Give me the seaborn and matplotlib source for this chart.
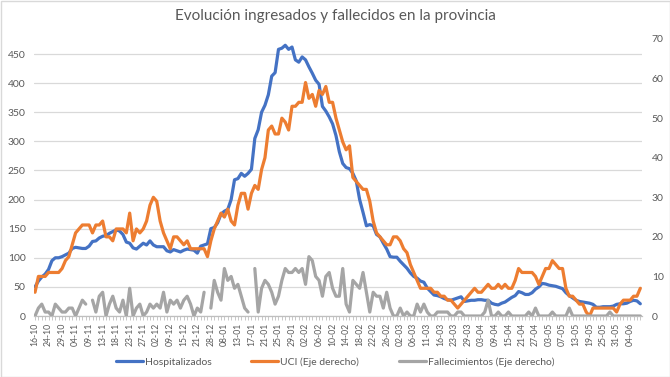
import matplotlib
matplotlib.use("Agg")
import numpy as np
import pandas as pd
import matplotlib.pyplot as plt
import seaborn as sns
from matplotlib.lines import Line2D
from matplotlib.patches import Rectangle

# Datos (una entrada por día con dato)
etiquetas_fecha = [
    '16-10', '24-10', '29-10', '04-11', '09-11', '13-11', '18-11', '23-11',
    '27-11', '02-12', '09-12', '15-12', '21-12', '28-12', '08-01', '13-01',
    '17-01', '21-01', '25-01', '29-01', '02-02', '06-02', '10-02', '14-02',
    '18-02', '22-02', '26-02', '02-03', '06-03', '11-03', '16-03', '23-03',
    '29-03', '03-04', '09-04', '15-04', '21-04', '27-04', '03-05', '07-05',
    '13-05', '19-05', '25-05', '31-05', '04-06'
]

hospitalizados = [
    50, 60, 67, 72, 80, 95, 100, 100, 102, 105,
    108, 116, 118, 117, 116, 116, 120, 128, 129, 134,
    137, 138, 142, 145, 148, 146, 140, 127, 125, 117,
    115, 120, 125, 122, 129, 122, 119, 119, 119, 112,
    110, 114, 112, 110, 113, 115, 114, 113, 108, 120,
    122, 124, 150, 152, 160, 175, 180, 183, 200, 234,
    236, 245, 240, 245, 252, 305, 320, 350, 362, 380,
    412, 418, 458, 460, 465, 458, 462, 440, 436, 445,
    440, 428, 417, 405, 398, 360, 352, 342, 330, 310,
    282, 262, 255, 253, 245, 232, 200, 178, 155, 157,
    155, 140, 136, 125, 115, 102, 101, 101, 94, 88,
    82, 74, 68, 65, 60, 58, 48, 42, 36, 35,
    33, 30, 28, 27, 29, 31, 33, 25, 26, 27,
    27, 28, 28, 27, 27, 22, 20, 19, 22, 24,
    28, 32, 35, 42, 40, 37, 37, 40, 46, 50,
    56, 55, 53, 52, 51, 49, 47, 40, 35, 31,
    27, 25, 24, 23, 22, 20, 15, 15, 16, 16,
    16, 17, 20, 21, 21, 22, 25, 27, 26, 21,
]

uci = [
    6, 10, 10, 10, 11, 11, 11, 11, 12, 14,
    15, 18, 21, 22, 23, 23, 23, 21, 23, 23,
    24, 20, 20, 19, 22, 22, 22, 21, 26, 19,
    22, 21, 22, 24, 28, 30, 29, 24, 21, 19,
    17, 20, 20, 19, 18, 19, 17, 17, 17, 17,
    17, 15, 19, 22, 24, 26, 25, 27, 24, 23,
    28, 31, 31, 27, 31, 33, 32, 37, 40, 47,
    48, 46, 46, 50, 49, 47, 53, 53, 54, 54,
    59, 55, 56, 53, 57, 56, 58, 54, 54, 50,
    47, 44, 42, 43, 35, 34, 33, 32, 32, 29,
    24, 21, 20, 19, 18, 18, 20, 20, 19, 17,
    16, 13, 11, 9, 7, 7, 7, 7, 6, 6,
    5, 5, 4, 4, 3, 2, 3, 4, 5, 6,
    7, 6, 6, 7, 8, 7, 7, 8, 7, 8,
    7, 7, 9, 12, 11, 11, 11, 11, 10, 8,
    10, 12, 12, 14, 13, 12, 12, 7, 5, 5,
    4, 3, 3, 1, 0, 2, 2, 2, 2, 2,
    2, 2, 1, 3, 4, 4, 4, 5, 5, 7,
]

fallecimientos = [
    0, 2, 3, 1, 1, 0, 3, 2, 1, 1,
    2, 2, 0, 2, 4, 3, None, 4, 1, 5,
    6, 0, 3, 5, 2, 1, 4, 0, 7, 0,
    2, 3, 0, 1, 3, 2, 3, 2, 6, 1,
    4, 3, 4, 2, 4, 5, 3, 0, 2, 1,
    6, None, 2, 9, 6, 4, 12, 9, 10, 7,
    8, 5, 2, 1, None, 12, 1, 7, 9, 8,
    6, 3, 5, 9, 12, 11, 11, 12, 11, 12,
    8, 15, 14, 10, 9, 5, 10, 11, 7, 5,
    5, 12, 3, 1, 9, 8, 7, 11, 6, 1,
    6, 5, 5, 2, 6, 2, 0, 0, 2, 0,
    1, 0, 0, 3, 1, 3, 1, 0, 0, 1,
    1, 1, 1, 0, 0, 1, 1, 0, 0, 0,
    0, 0, 0, 1, 4, 0, 0, 1, 0, 0,
    1, 0, 0, 0, 0, 0, 1, 0, 2, 0,
    0, 0, 0, 1, 0, 0, 0, 0, 2, 0,
    0, 0, 0, 0, 0, 0, 0, 0, 0, 0,
    1, 0, 0, 0, 0, 0, 0, 0, 0, 0,
]

AZUL = '#4472C4'
NARANJA = '#ED7D31'
GRIS = '#A5A5A5'
TEXTO = '#595959'

df = pd.DataFrame({
    'dia': np.arange(len(hospitalizados)),
    'hosp': hospitalizados,
    'uci': uci,
    'fall': pd.array(fallecimientos, dtype='Float64').astype(float),
})
# tramos para que los huecos de datos no se unan
df['tramo'] = df['fall'].isna().cumsum()
df_fall = df.dropna(subset=['fall'])

sns.set_theme(style="white")
plt.rcParams['font.family'] = ['Lato', 'DejaVu Sans']

W, H = 670, 377
fig = plt.figure(figsize=(W / 100, H / 100), dpi=100)
ax = fig.add_axes([34 / W, 1 - 316 / H, (642 - 34) / W, (316 - 39) / H])
ax2 = ax.twinx()

sns.lineplot(data=df, x='dia', y='hosp', ax=ax, color=AZUL, lw=2.3)
sns.lineplot(data=df, x='dia', y='uci', ax=ax2, color=NARANJA, lw=2.3)
sns.lineplot(data=df_fall, x='dia', y='fall', units='tramo', estimator=None,
             ax=ax2, color=GRIS, lw=2.3)

ax.set_xlim(-0.3, len(hospitalizados) - 0.5)
ax.set_ylim(0, 475.8)
ax2.set_ylim(0, 70)
ax.set_yticks(range(0, 500, 50))
ax2.set_yticks(range(0, 80, 10))

ticks = list(range(len(hospitalizados)))
labels = ['' for _ in ticks]
for k, lab in enumerate(etiquetas_fecha):
    labels[4 * k] = lab
ax.set_xticks(ticks)
ax.set_xticklabels(labels)

ax.yaxis.grid(True, color='#D9D9D9', lw=0.9)
ax.xaxis.grid(False)
for a in (ax, ax2):
    a.set_xlabel('')
    a.set_ylabel('')
    for s in a.spines.values():
        s.set_visible(False)
ax.spines['bottom'].set_visible(True)
ax.spines['bottom'].set_color('#BFBFBF')
ax.spines['bottom'].set_linewidth(0.9)

ax.tick_params(axis='x', length=3, width=0.6, color='#BFBFBF', labelsize=6.2,
               labelcolor=TEXTO, rotation=90, pad=2, bottom=True)
ax.tick_params(axis='y', length=0, labelsize=7.5, labelcolor=TEXTO, pad=6)
ax2.tick_params(axis='y', length=0, labelsize=7.5, labelcolor=TEXTO, pad=7)

fig.text(0.5, 1 - 16 / H, 'Evolución ingresados y fallecidos en la provincia',
         ha='center', va='center', fontsize=11, color=TEXTO)

handles = [Line2D([], [], color=AZUL, lw=2.3),
           Line2D([], [], color=NARANJA, lw=2.3),
           Line2D([], [], color=GRIS, lw=2.3)]
fig.legend(handles, ['Hospitalizados', 'UCI (Eje derecho)', 'Fallecimientos (Eje derecho)'],
           loc='center', bbox_to_anchor=(0.5, 1 - 362 / H), ncol=3, frameon=False,
           fontsize=7.5, handlelength=2.6, handletextpad=0.2, columnspacing=3.8,
           labelcolor=TEXTO)

fig.patches.append(Rectangle((0.5 / W, 0.5 / H), 1 - 1 / W, 1 - 1 / H,
                             transform=fig.transFigure, fill=False,
                             ec='#D9D9D9', lw=1))

fig.savefig('out.png', dpi=100)
